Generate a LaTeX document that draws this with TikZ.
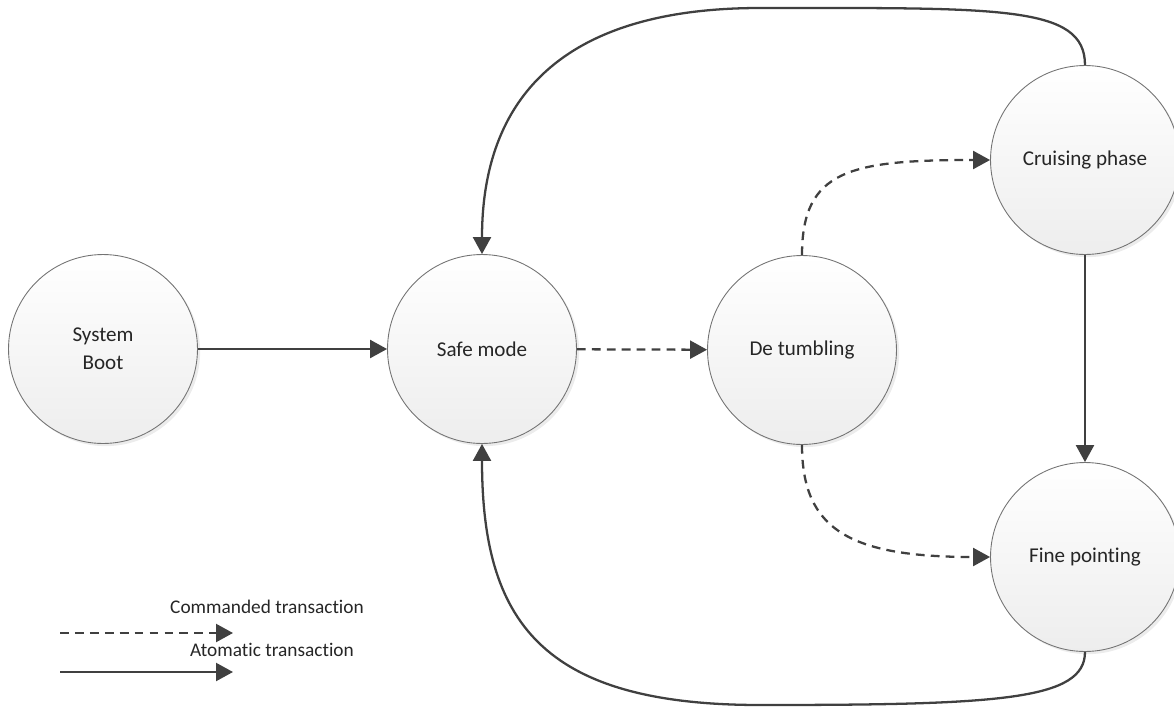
\documentclass[tikz,border=0pt]{standalone}
\usepackage{fontspec}
\setmainfont{Carlito}[Ligatures=NoCommon]
\usepackage{tikz}
\usetikzlibrary{arrows.meta, shadows}

\begin{document}
\begin{tikzpicture}[x=0.02cm, y=-0.02cm,
    state/.style={circle, draw=black!55, line width=0.5pt, minimum size=3.78cm,
      inner sep=0pt, align=center, font=\fontsize{12}{16}\selectfont, text=black!85,
      top color=white, bottom color=black!7,
      drop shadow={shadow xshift=1.5pt, shadow yshift=-1.5pt, opacity=0.25, fill=black!30}},
    atomic/.style={draw=black!75, line width=1.3pt, -{Triangle[length=3.4mm, width=3.6mm]}},
    commanded/.style={atomic, dash pattern=on 5pt off 3.5pt},
    legendtext/.style={font=\fontsize{11}{13}\selectfont, text=black!85}]
  \useasboundingbox (0,0) rectangle (1174,707);

  % modes
  \node[state] (boot)   at (103,349)  {System\\Boot};
  \node[state] (safe)   at (482,349)  {Safe mode};
  \node[state] (detumb) at (802,350)  {De tumbling};
  \node[state] (cruise) at (1085,160) {Cruising phase};
  \node[state] (fine)   at (1085,557) {Fine pointing};

  % transitions
  \draw[atomic] (boot) -- (safe);
  \draw[commanded] (safe) -- (detumb);
  \draw[commanded] (detumb.north) .. controls (802,170) and (850,160) .. (cruise.west);
  \draw[commanded] (detumb.south) .. controls (802,530) and (850,557) .. (fine.west);
  \draw[atomic] (cruise) -- (fine);
  \draw[atomic] (cruise.north) .. controls (1085,5) and (1000,8) .. (760,8)
      .. controls (560,8) and (482,100) .. (safe.north);
  \draw[atomic] (fine.south) .. controls (1085,700) and (1000,705) .. (760,705)
      .. controls (540,705) and (482,620) .. (safe.south);

  % legend
  \node[legendtext] (cmdlabel) at (267,607) {Commanded transaction};
  \coordinate (cmdstart) at (60,633);
  \coordinate (cmdend) at (233,633);
  \draw[commanded] (cmdstart) -- (cmdend);
  \node[legendtext] (atolabel) at (272,650) {Atomatic transaction};
  \coordinate (atostart) at (60,672);
  \coordinate (atoend) at (233,672);
  \draw[atomic] (atostart) -- (atoend);
\end{tikzpicture}
\end{document}
